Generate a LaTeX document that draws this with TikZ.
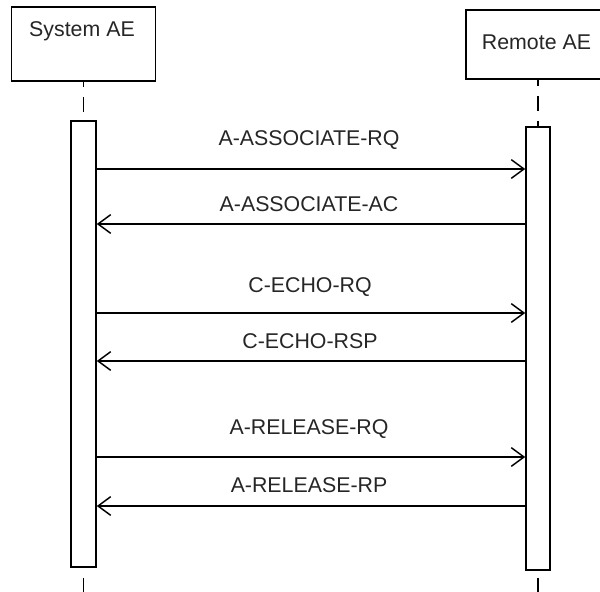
\documentclass[tikz,border=0pt]{standalone}
\usepackage{fontspec}
\setmainfont{Liberation Sans}
\usetikzlibrary{arrows.meta}

\begin{document}
\begin{tikzpicture}[x=0.75pt,y=-0.75pt,
		actor/.style={draw=black, line width=1.2pt, fill=white},
		activity/.style={draw=black, line width=1.2pt, fill=white},
		lifeline/.style={black, line width=1.2pt, dash pattern=on 11.25pt off 7.5pt},
		msg/.style={black, line width=1.1pt, -{Straight Barb[length=9.5pt,width=14pt]}}]
			\tikzstyle{every node}+=[inner sep=0pt, font=\fontsize{16}{19}\selectfont, text=black!85]
			\useasboundingbox (0,0) rectangle (600,592);
			\clip (0,0) rectangle (600,592);
			\node [actor, minimum width=108pt, minimum height=55.5pt] (sys) at (83.5,44) {};
			\node [anchor=base] (syslbl) at (82,37) {System AE};
			\node [actor, minimum width=200pt, minimum height=51.75pt] (rem) at (599.5,44.5) {};
			\node [anchor=base] (remlbl) at (536.5,50) {Remote AE};
			\node [activity, minimum width=18.75pt, minimum height=334.5pt] (sysbar) at (83.5,344) {};
			\node [activity, minimum width=18pt, minimum height=332.25pt] (rembar) at (538,348.5) {};
			\coordinate (sysend) at (83.5,592);
			\coordinate (remtop) at (538,79);
			\coordinate (remend) at (538,592);
			\draw [lifeline, dash phase=7.5pt] (sys) -- (sysbar);
			\draw [lifeline, dash phase=6pt] (remtop) -- (rembar);
			\draw [lifeline, dash phase=11.25pt] (sysbar) -- (sysend);
			\draw [lifeline, dash phase=13.5pt] (rembar) -- (remend);
			% association
			\draw [msg] (sysbar.east |- 0,169) -- (rembar.west |- 0,169);
			\node [anchor=base] (assocrq) at (309,146) {A-ASSOCIATE-RQ};
			\draw [msg] (rembar.west |- 0,224) -- (sysbar.east |- 0,224);
			\node [anchor=base] (assocac) at (309,211) {A-ASSOCIATE-AC};
			% verification
			\draw [msg] (sysbar.east |- 0,313) -- (rembar.west |- 0,313);
			\node [anchor=base] (echorq) at (310,292) {C-ECHO-RQ};
			\draw [msg] (rembar.west |- 0,361) -- (sysbar.east |- 0,361);
			\node [anchor=base] (echorsp) at (310,348) {C-ECHO-RSP};
			% release
			\draw [msg] (sysbar.east |- 0,457) -- (rembar.west |- 0,457);
			\node [anchor=base] (relrq) at (309,434) {A-RELEASE-RQ};
			\draw [msg] (rembar.west |- 0,506) -- (sysbar.east |- 0,506);
			\node [anchor=base] (relrp) at (309,492) {A-RELEASE-RP};
		\end{tikzpicture}
\end{document}
